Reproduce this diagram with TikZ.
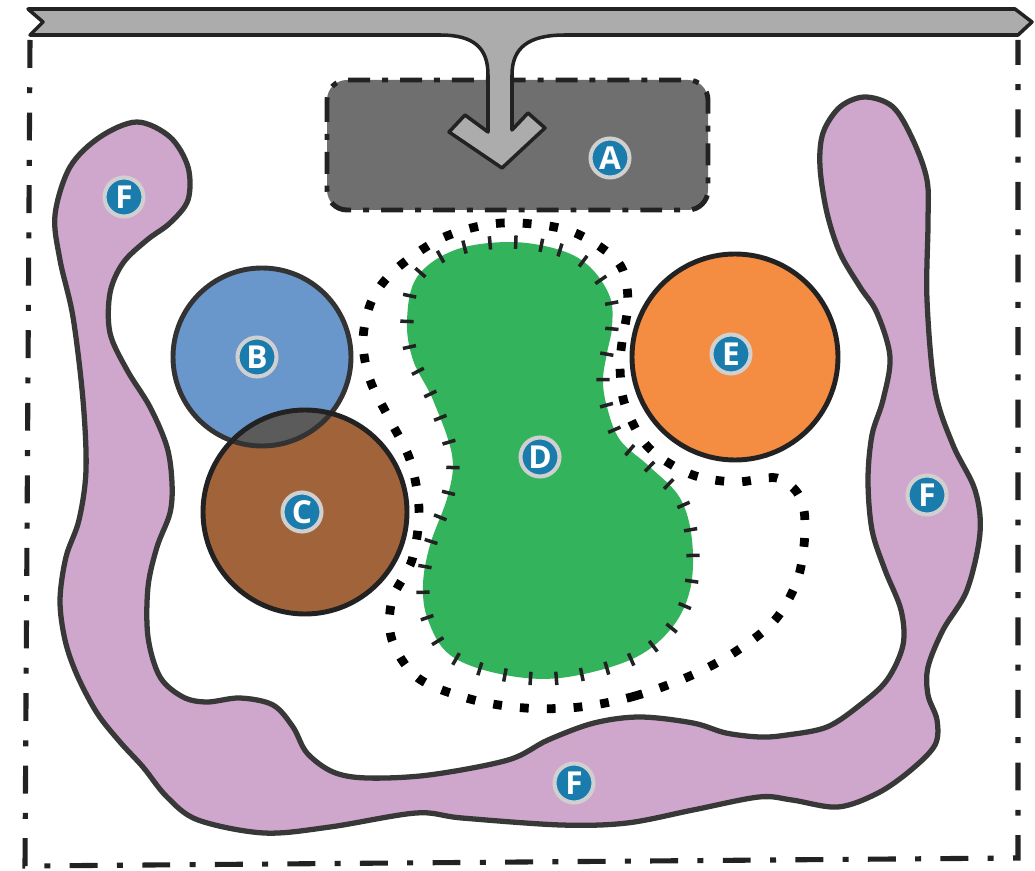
\documentclass[tikz,border=0pt]{standalone}
\usepackage{fontspec}
\newfontfamily\tagfont{Open Sans}
\usepackage{xcolor}
\usepackage{tikz}
\usetikzlibrary{decorations.pathreplacing}

\definecolor{bargray}{HTML}{ABACAB}
\definecolor{boxgray}{HTML}{6E6F6E}
\definecolor{bluedisc}{HTML}{6996CB}
\definecolor{browndisc}{HTML}{A0633A}
\definecolor{orangedisc}{HTML}{F48C42}
\definecolor{greenblob}{HTML}{33B35C}
\definecolor{purpleblob}{HTML}{CFA7CC}
\definecolor{tagblue}{HTML}{1A7BAD}
\definecolor{tagring}{HTML}{D0D0D0}
\definecolor{lensgray}{HTML}{5B5B5B}
\definecolor{ink}{HTML}{222222}

\begin{document}
\begin{tikzpicture}[
  x=0.02cm, y=-0.02cm,
  tag/.style={circle, fill=tagblue, draw=tagring, line width=2.3pt, minimum size=0.78cm,
              inner sep=0pt, text=white, font=\tagfont\fontsize{18}{18}\selectfont\bfseries},
  frame/.style={ink, line width=2.9pt, dash pattern=on 15.9pt off 11pt on 3.4pt off 11pt},
  boxA/.style={fill=boxgray, draw=ink, line width=2.8pt, rounded corners=0.4cm,
               dash pattern=on 12.5pt off 6.8pt on 3.4pt off 6.8pt},
  disc/.style={line width=2.8pt},
  blob/.style={line width=3pt, draw=black!78, fill=purpleblob},
  dots/.style={black, line width=5pt, dash pattern=on 5pt off 10.3pt},
  ticked/.style={ink, line width=2pt, decorate,
                 decoration={ticks, segment length=14.7pt, amplitude=3.8pt}}
]
  \useasboundingbox (0,0) rectangle (1035,871);

  \draw[frame] (30,40) -- (25,866) -- (1018,858) -- (1018,40);

  \draw[boxA] (327,80) rectangle (708,210);

  \draw[fill=bargray, draw=ink, line width=2pt, line join=round]
    (28,9) -- (1015,9) -- (1032,22) -- (1018,35) -- (565,35)
    .. controls (528,35) and (512,48) .. (512,75) -- (512,130) -- (528,113) -- (545,128)
    -- (502,168) -- (449,132) -- (465,115) -- (488,132) -- (488,75)
    .. controls (488,48) and (474,35) .. (440,35) -- (30,35) -- (43,22) -- cycle;

  \draw[blob] plot[smooth cycle, tension=0.55] coordinates {
    (137,122) (100,137) (70,167) (55,215) (60,260) (73,317) (83,400) (86,470)
    (79,520) (66,557) (60,600) (65,640) (77,675) (97,713) (120,742) (143,767)
    (167,797) (198,820) (264,833) (330,827) (416,813) (462,818) (561,825) (627,823)
    (693,810) (759,797) (792,800) (838,807) (878,793) (911,770) (935,745) (937,720)
    (928,695) (928,667) (943,630) (967,590) (980,533) (975,490) (953,445) (935,390)
    (927,300) (928,223) (927,180) (913,140) (893,107) (865,97) (840,107) (823,133)
    (820,167) (827,213) (840,253) (860,287) (877,313) (890,357) (883,400) (872,435)
    (868,480) (872,530) (885,570) (901,610) (903,645) (887,680) (860,705) (827,727)
    (787,735) (760,737) (726,733) (693,723) (640,717) (594,723) (548,740) (508,760)
    (429,775) (367,778) (333,772) (307,753) (293,727) (273,705) (240,698) (207,702)
    (183,697) (160,677) (148,637) (148,587) (157,547) (170,513) (172,483) (167,447)
    (150,407) (127,370) (110,333) (110,293) (123,263) (147,240) (170,223) (188,200)
    (188,167) (170,137)};

  \fill[bluedisc] (262,357) circle[radius=89];
  \fill[browndisc] (305,512) circle[radius=102];
  \begin{scope}
    \clip (262,357) circle[radius=89];
    \fill[lensgray] (305,512) circle[radius=102];
  \end{scope}
  \draw[disc, black!80] (262,357) circle[radius=89];
  \draw[disc, ink] (305,512) circle[radius=102];

  \draw[disc, fill=orangedisc, draw=ink] (735,357) circle[radius=103];

  \fill[greenblob] plot[smooth cycle, tension=0.6] coordinates {
    (510,242) (560,250) (590,267) (610,297) (612,327) (607,353) (603,380) (607,407)
    (620,440) (650,467) (680,498) (692,540) (690,590) (670,630) (630,660) (560,678)
    (500,674) (450,655) (428,620) (423,585) (430,545) (448,495) (452,455) (433,400)
    (413,360) (407,320) (417,277) (455,250)};
  \draw[ticked] plot[smooth cycle, tension=0.6] coordinates {
    (510,242) (560,250) (590,267) (610,297) (612,327) (607,353) (603,380) (607,407)
    (620,440) (650,467) (680,498) (692,540) (690,590) (670,630) (630,660) (560,678)
    (500,674) (450,655) (428,620) (423,585) (430,545) (448,495) (452,455) (433,400)
    (413,360) (407,320) (417,277) (455,250)};

  \draw[dots] plot[smooth cycle, tension=0.55] coordinates {
    (690,676) (635,696) (580,707) (525,708) (470,699) (418,678) (392,640) (392,600)
    (412,560) (419,510) (410,460) (390,420) (370,380) (363,340) (372,300) (395,270)
    (438,240) (480,226) (520,223) (573,232) (618,262) (628,300) (622,342) (620,368)
    (625,405) (648,447) (690,474) (735,482) (777,478) (800,497) (805,530) (798,578)
    (775,620) (735,652)};

  \node[tag] (tagA) at (610,158) {A};
  \node[tag] (tagB) at (257,357) {B};
  \node[tag] (tagC) at (302,512) {C};
  \node[tag] (tagD) at (540,457) {D};
  \node[tag] (tagE) at (731,354) {E};
  \node[tag] (tagF) at (124,197) {F};
  \node[tag] (tagFright) at (927,495) {F};
  \node[tag] (tagFlow) at (574,783) {F};
\end{tikzpicture}
\end{document}
